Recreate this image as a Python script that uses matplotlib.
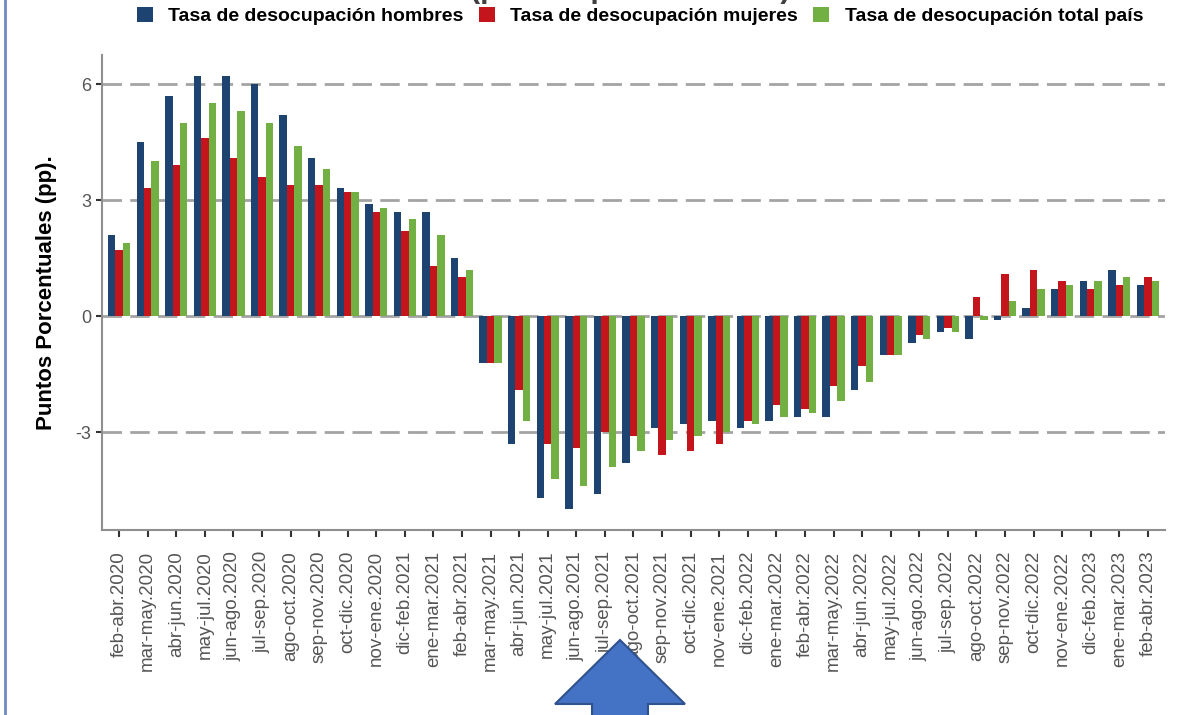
import numpy as np
import matplotlib.pyplot as plt
from matplotlib.patches import Polygon
from matplotlib.lines import Line2D

plt.rcParams['font.family'] = ['Liberation Sans', 'DejaVu Sans']

# Trimestres móviles
periodos = [
    "feb-abr.2020", "mar-may.2020", "abr-jun.2020", "may-jul.2020", "jun-ago.2020",
    "jul-sep.2020", "ago-oct.2020", "sep-nov.2020", "oct-dic.2020", "nov-ene.2020",
    "dic-feb.2021", "ene-mar.2021", "feb-abr.2021", "mar-may.2021", "abr-jun.2021",
    "may-jul.2021", "jun-ago.2021", "jul-sep.2021", "ago-oct.2021", "sep-nov.2021",
    "oct-dic.2021", "nov-ene.2021", "dic-feb.2022", "ene-mar.2022", "feb-abr.2022",
    "mar-may.2022", "abr-jun.2022", "may-jul.2022", "jun-ago.2022", "jul-sep.2022",
    "ago-oct.2022", "sep-nov.2022", "oct-dic.2022", "nov-ene.2022", "dic-feb.2023",
    "ene-mar.2023", "feb-abr.2023",
]

# Variación en puntos porcentuales
hombres = [2.1, 4.5, 5.7, 6.2, 6.2, 6.0, 5.2, 4.1, 3.3, 2.9, 2.7, 2.7, 1.5,
           -1.2, -3.3, -4.7, -5.0, -4.6, -3.8, -2.9, -2.8, -2.7, -2.9, -2.7, -2.6,
           -2.6, -1.9, -1.0, -0.7, -0.4, -0.6, -0.1, 0.2, 0.7, 0.9, 1.2, 0.8]
mujeres = [1.7, 3.3, 3.9, 4.6, 4.1, 3.6, 3.4, 3.4, 3.2, 2.7, 2.2, 1.3, 1.0,
           -1.2, -1.9, -3.3, -3.4, -3.0, -3.1, -3.6, -3.5, -3.3, -2.7, -2.3, -2.4,
           -1.8, -1.3, -1.0, -0.5, -0.3, 0.5, 1.1, 1.2, 0.9, 0.7, 0.8, 1.0]
total_pais = [1.9, 4.0, 5.0, 5.5, 5.3, 5.0, 4.4, 3.8, 3.2, 2.8, 2.5, 2.1, 1.2,
              -1.2, -2.7, -4.2, -4.4, -3.9, -3.5, -3.2, -3.1, -3.0, -2.8, -2.6, -2.5,
              -2.2, -1.7, -1.0, -0.6, -0.4, -0.1, 0.4, 0.7, 0.8, 0.9, 1.0, 0.9]

series = ["Tasa de desocupación hombres", "Tasa de desocupación mujeres",
          "Tasa de desocupación total país"]
colores = ["#1d4370", "#c3151b", "#72b044"]

W, H = 1178, 715
fig = plt.figure(figsize=(W / 100, H / 100), dpi=100)
ax = fig.add_axes([102 / W, 1 - 530 / H, (1165 - 102) / W, (530 - 55) / H])

x = np.arange(len(periodos))
ancho = 0.26
for k, (valores, nombre, color) in enumerate(zip([hombres, mujeres, total_pais], series, colores)):
    ax.bar(x + (k - 1) * ancho, valores, ancho, color=color, label=nombre, zorder=3)

ax.set_xlim(-0.6, len(periodos) - 1 + 0.6)
ax.set_ylim(-5.53, 6.75)
ax.set_yticks([-3, 0, 3, 6])
ax.set_yticklabels(["-3", "0", "3", "6"])
ax.set_xticks(x)
ax.set_xticklabels(periodos, rotation=90)

ax.grid(axis='y', linestyle=(0, (7, 3)), color='#a3a3a3', linewidth=2, zorder=0)
ax.set_axisbelow(True)

for lado in ['top', 'right']:
    ax.spines[lado].set_visible(False)
for lado in ['left', 'bottom']:
    ax.spines[lado].set_color('#8f8f8f')
    ax.spines[lado].set_linewidth(1.5)

ax.tick_params(axis='x', length=5, width=1.5, color='#333333', labelcolor='#555555',
               labelsize=13.5, pad=10)
ax.tick_params(axis='y', length=4, width=1.5, color='#333333', labelcolor='#555555',
               labelsize=13, pad=4)

ax.set_ylabel("Puntos Porcentuales (pp).", fontsize=16, fontweight='bold', color='black')
ax.yaxis.set_label_coords((47 - 102) / (1165 - 102), 0.5)
ax.yaxis.label.set_va('center')

fig.legend(loc='center', bbox_to_anchor=(640 / W, 1 - 16 / H), ncol=3, frameon=False,
           prop={'weight': 'bold', 'size': 14}, handlelength=0.8, handleheight=0.8,
           handletextpad=0.8, columnspacing=0.8)

# título cortado en la parte superior
fig.text(630 / W, 1 + 3 / H, "(puntos porcentuales)", ha='center', va='baseline',
         fontsize=22, fontweight='bold', color='#404040')

# borde izquierdo
fig.add_artist(Line2D([4.5 / W, 4.5 / W], [0, 1], transform=fig.transFigure,
                      color='#6d8cc0', linewidth=2))

# flecha
pts = [(620, 640), (685, 704), (648, 704), (648, 720), (592, 720), (592, 704), (555, 704)]
fig.add_artist(Polygon([(px / W, 1 - py / H) for px, py in pts], closed=True,
                       transform=fig.transFigure, facecolor='#4472c4',
                       edgecolor='#2f528f', linewidth=1.5, clip_on=False))

fig.savefig("out.png", dpi=100)
